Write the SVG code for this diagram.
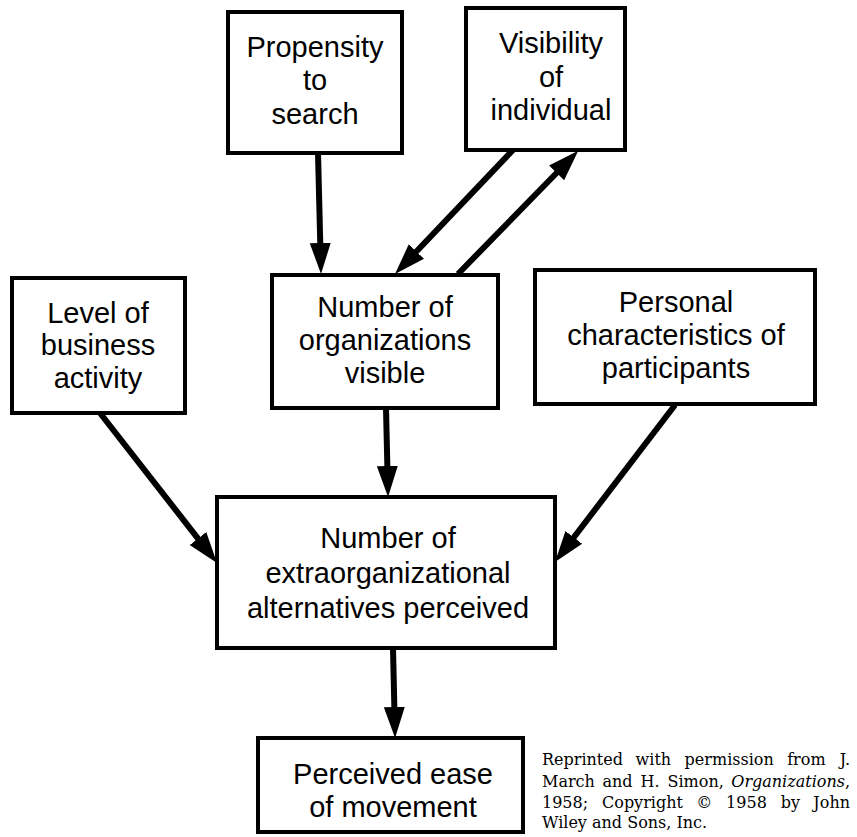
<svg xmlns="http://www.w3.org/2000/svg" width="857" height="837" viewBox="0 0 857 837">
<style>
  .box { fill: #fff; stroke: #000; stroke-width: 4; }
  .lbl { font-family: "Liberation Sans", Arial, sans-serif; font-size: 29px; fill: #000; text-anchor: middle; }
  .conn { stroke: #000; stroke-width: 6; fill: none; marker-end: url(#ah); }
  .cap { font-family: "DejaVu Serif", "Liberation Serif", serif; font-size: 16px; fill: #000; }
</style>
<defs>
  <marker id="ah" markerUnits="userSpaceOnUse" markerWidth="34" markerHeight="24" viewBox="0 -12 34 24" refX="2" refY="0" orient="auto">
    <path d="M0,-10.5 L31,0 L0,10.5 Z" fill="#000"/>
  </marker>
</defs>
<rect width="857" height="837" fill="#fff"/>

<g id="connectors">
  <line class="conn" x1="318" y1="153" x2="320.3" y2="245"/>
  <line class="conn" x1="513" y1="150" x2="415" y2="253"/>
  <line class="conn" x1="458" y1="274" x2="558" y2="171.5"/>
  <line class="conn" x1="100" y1="413" x2="199.2" y2="540.1"/>
  <line class="conn" x1="386" y1="408" x2="387.4" y2="468"/>
  <line class="conn" x1="675" y1="405" x2="572.6" y2="539"/>
  <line class="conn" x1="393" y1="648" x2="394.4" y2="709"/>
</g>

<g id="propensity">
  <rect class="box" x="228" y="12" width="174" height="141"/>
  <text class="lbl" x="315" y="57">Propensity</text>
  <text class="lbl" x="315" y="90">to</text>
  <text class="lbl" x="315" y="124">search</text>
</g>

<g id="visibility">
  <rect class="box" x="466" y="8" width="159" height="142"/>
  <text class="lbl" x="551" y="53">Visibility</text>
  <text class="lbl" x="551" y="87">of</text>
  <text class="lbl" x="551" y="120">individual</text>
</g>

<g id="level">
  <rect class="box" x="12" y="278" width="173" height="135"/>
  <text class="lbl" x="98" y="323">Level of</text>
  <text class="lbl" x="98" y="355">business</text>
  <text class="lbl" x="98" y="388">activity</text>
</g>

<g id="number-visible">
  <rect class="box" x="272" y="275" width="226" height="133"/>
  <text class="lbl" x="385" y="317">Number of</text>
  <text class="lbl" x="385" y="350">organizations</text>
  <text class="lbl" x="385" y="383">visible</text>
</g>

<g id="personal">
  <rect class="box" x="535" y="270" width="280" height="134"/>
  <text class="lbl" x="676" y="312">Personal</text>
  <text class="lbl" x="676" y="345">characteristics of</text>
  <text class="lbl" x="676" y="378">participants</text>
</g>

<g id="alternatives">
  <rect class="box" x="217" y="497" width="338" height="151"/>
  <text class="lbl" x="388" y="548">Number of</text>
  <text class="lbl" x="388" y="583">extraorganizational</text>
  <text class="lbl" x="388" y="618">alternatives perceived</text>
</g>

<g id="ease">
  <rect class="box" x="258" y="738" width="265" height="94"/>
  <text class="lbl" x="393" y="784">Perceived ease</text>
  <text class="lbl" x="393" y="817">of movement</text>
</g>

<g id="caption">
  <text class="cap" y="765"><tspan x="542">Reprinted</tspan><tspan x="635.6">with</tspan><tspan x="684.6">permission</tspan><tspan x="787.2">from</tspan></text>
  <text class="cap" y="765" x="850" text-anchor="end">J.</text>
  <text class="cap" y="787"><tspan x="542">March</tspan><tspan x="602.4">and</tspan><tspan x="640.5">H.</tspan><tspan x="667.5">Simon,</tspan></text>
  <text class="cap" y="787" x="850" text-anchor="end" font-style="italic">Organizations<tspan font-style="normal">,</tspan></text>
  <text class="cap" y="808"><tspan x="542">1958;</tspan><tspan x="602">Copyright</tspan><tspan x="696.3">©</tspan><tspan x="726.1">1958</tspan><tspan x="780.7">by</tspan></text>
  <text class="cap" y="808" x="850" text-anchor="end">John</text>
  <text class="cap" y="828" x="542">Wiley and Sons, Inc.</text>
</g>
</svg>
